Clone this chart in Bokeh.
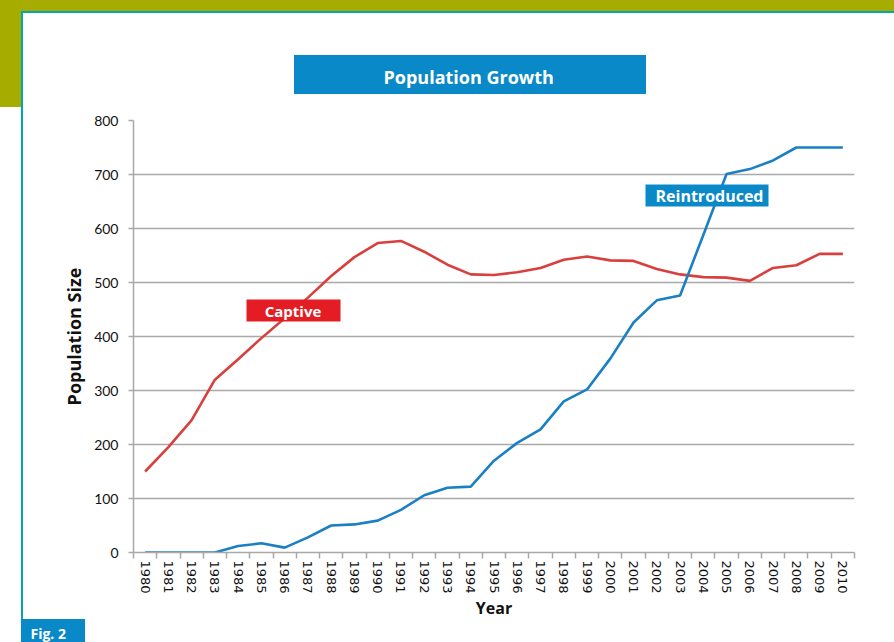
from bokeh.plotting import figure
from bokeh.models import Range1d, FixedTicker, Label, BoxAnnotation, Title
from bokeh.embed import file_html
from bokeh.resources import INLINE

# ---- data ----
years = list(range(1980, 2011))
year_labels = [str(y) for y in years]
captive = [150, 195, 245, 320, 358, 397, 434, 472, 512, 547, 573, 577, 557, 533, 515,
           514, 519, 527, 542, 548, 541, 540, 525, 515, 510, 509, 503, 527, 532, 553, 553]
reintroduced = [0, 0, 0, 0, 12, 17, 9, 28, 50, 52, 59, 79, 106, 120, 122,
                170, 203, 228, 280, 302, 359, 426, 467, 476, 588, 701, 710, 726, 750, 750, 750]
y_ticks = list(range(0, 801, 100))
title_text = "Population Growth"
series_names = ["Captive", "Reintroduced"]
fig_tag = "Fig. 2"

# ---- styles ----
RED_LINE = "#d9403d"
BLUE_LINE = "#1a80c3"
RED_BOX = "#e31d23"
BLUE_BOX = "#0a89c9"
TEAL = "#00a7b2"
OLIVE = "#a6ad00"
GRID = "#a9a9a9"
W, H = 894, 642
FRAME_L = 133

p = figure(width=W, height=H, output_backend="svg", toolbar_location=None,
           x_range=Range1d(years[0] - 0.5, years[-1] + 0.5), y_range=Range1d(0, 800),
           min_border_left=FRAME_L, min_border_right=40, min_border_top=120, min_border_bottom=90,
           background_fill_color="white", border_fill_alpha=0, outline_line_color=None)


def css_rect(l, r, t, b, color):
    return f"linear-gradient({color}, {color}) {l}px {t}px / {r - l}px {b - t}px no-repeat"


# page decoration drawn as the figure's CSS background (outside the plot frame)
layers = [
    css_rect(294, 646, 55, 94, BLUE_BOX),   # title box
    css_rect(21, 85, 619, H, BLUE_BOX),     # Fig. 2 tag
    css_rect(21, W, 11, 13, TEAL),
    css_rect(21, 23, 11, H, TEAL),
    css_rect(0, W, 0, 12, OLIVE),
    css_rect(0, 21, 0, 107, OLIVE),
]
p.styles = {"background": ", ".join(layers) + ", white"}

# title (in the panel above the frame)
p.title = Title(text=title_text, align="left", offset=383 - FRAME_L, standoff=63,
                text_color="white", text_font="Open Sans", text_font_style="bold",
                text_font_size="18px")

# axes
p.xaxis.ticker = FixedTicker(ticks=years, minor_ticks=[y - 0.5 for y in years] + [years[-1] + 0.5])
p.xaxis.major_label_overrides = {y: s for y, s in zip(years, year_labels)}
p.xaxis.major_label_orientation = "vertical"
p.xaxis.major_tick_out = 0
p.xaxis.major_tick_in = 0
p.xaxis.minor_tick_out = 6
p.xaxis.minor_tick_in = 0
p.xaxis.minor_tick_line_color = GRID
p.xaxis.minor_tick_line_width = 1.5
p.xaxis.axis_line_color = GRID
p.xaxis.axis_line_width = 1.5
p.xaxis.major_label_text_font = "DejaVu Sans"
p.xaxis.major_label_text_font_size = "13px"
p.xaxis.major_label_text_color = "#111111"
p.xaxis.major_label_standoff = 2
p.xaxis.axis_label = "Year"
p.xaxis.axis_label_text_font = "Open Sans"
p.xaxis.axis_label_text_font_style = "bold"
p.xaxis.axis_label_text_font_size = "16px"
p.xaxis.axis_label_text_color = "#111111"
p.xaxis.axis_label_standoff = 0

p.yaxis.ticker = FixedTicker(ticks=y_ticks)
p.yaxis.minor_tick_line_color = None
p.yaxis.major_tick_out = 5
p.yaxis.major_tick_in = 0
p.yaxis.major_tick_line_color = GRID
p.yaxis.major_tick_line_width = 1.5
p.yaxis.axis_line_color = GRID
p.yaxis.axis_line_width = 1.5
p.yaxis.major_label_text_font = "Lato"
p.yaxis.major_label_text_font_size = "14px"
p.yaxis.major_label_text_color = "#111111"
p.yaxis.major_label_standoff = 10
p.yaxis.axis_label = "Population Size"
p.yaxis.axis_label_text_font = "Open Sans"
p.yaxis.axis_label_text_font_style = "bold"
p.yaxis.axis_label_text_font_size = "18px"
p.yaxis.axis_label_text_color = "#111111"
p.yaxis.axis_label_standoff = 5

p.xgrid.visible = False
p.ygrid.ticker = FixedTicker(ticks=y_ticks)
p.ygrid.grid_line_color = GRID
p.ygrid.grid_line_width = 1.5

# lines
p.line(years, captive, line_color=RED_LINE, line_width=2.6)
p.line(years, reintroduced, line_color=BLUE_LINE, line_width=2.6)


def box(l, r, t, b, color):
    p.add_layout(BoxAnnotation(left=l, right=r, top=t, bottom=b,
                               left_units="canvas", right_units="canvas",
                               top_units="canvas", bottom_units="canvas",
                               fill_color=color, fill_alpha=1, line_color=None))


def text(x, y, s, size, align="center"):
    p.add_layout(Label(x=x, y=y, x_units="canvas", y_units="canvas", text=s,
                       text_align=align, text_baseline="alphabetic", text_color="white",
                       text_font="Open Sans", text_font_style="bold", text_font_size=size))


# series labels (inside the frame, drawn over the lines)
box(246, 340, 299, 321, RED_BOX)
text(292.5, 310.5, series_names[0], "15px")
box(645, 768, 184, 206, BLUE_BOX)
text(709, 195.5, series_names[1], "16px")

# figure tag (in a panel below the x axis)
p.add_layout(Title(text=fig_tag, align="left", offset=30 - FRAME_L, standoff=0,
                   text_color="white", text_font="Open Sans", text_font_style="bold",
                   text_font_size="14px"), "below")

open("out.html", "w").write(file_html(p, INLINE))
